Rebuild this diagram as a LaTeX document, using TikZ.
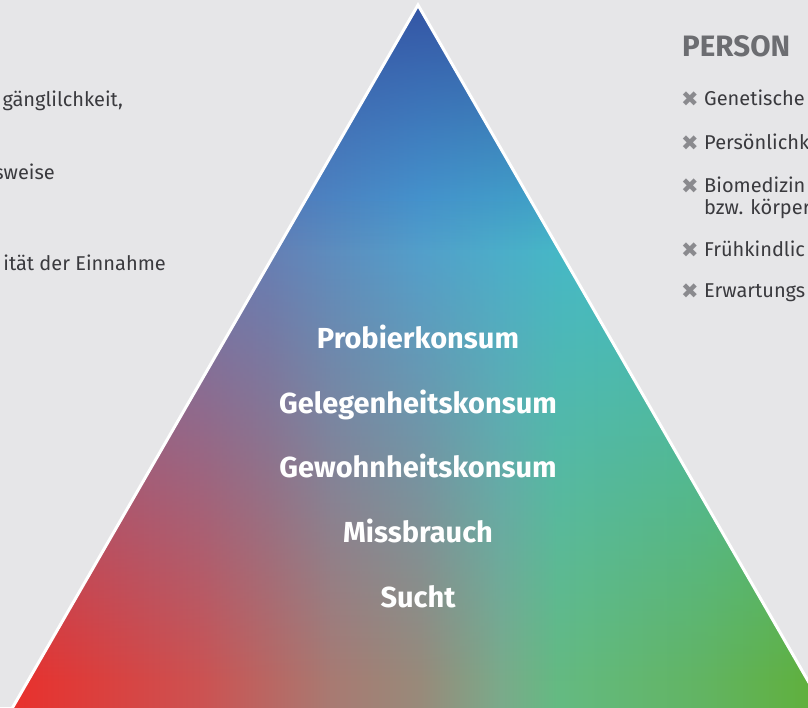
\documentclass[tikz,border=0pt]{standalone}
\usepackage{fontspec}
\setmainfont{Fira Sans}
\newfontfamily\symfont{DejaVu Sans}
\usetikzlibrary{fadings}

\definecolor{bg}{RGB}{230,230,232}
\definecolor{bodytext}{RGB}{58,58,62}
\definecolor{headgray}{RGB}{108,109,113}
\definecolor{bulletgray}{RGB}{138,138,142}
\definecolor{apexblue}{RGB}{52,84,164}
% bottom row colours
\definecolor{b0}{RGB}{234,46,42}
\definecolor{b1}{RGB}{204,82,82}
\definecolor{b2}{RGB}{168,122,114}
\definecolor{b3}{RGB}{152,138,122}
\definecolor{b4}{RGB}{122,170,138}
\definecolor{b5}{RGB}{100,186,130}
\definecolor{b6}{RGB}{98,180,98}
\definecolor{b7}{RGB}{96,176,62}
% top row colours
\definecolor{t0}{RGB}{105,118,182}
\definecolor{t1}{RGB}{90,130,192}
\definecolor{t2}{RGB}{73,162,214}
\definecolor{t3}{RGB}{66,184,208}
\definecolor{t4}{RGB}{60,195,200}

\pgfdeclarehorizontalshading{botrow}{100bp}{color(0bp)=(b0); color(25bp)=(b0); color(37.5bp)=(b1); color(45.5bp)=(b2); color(51bp)=(b3); color(56bp)=(b4); color(59.5bp)=(b5); color(68.5bp)=(b6); color(75bp)=(b7); color(100bp)=(b7)}
\pgfdeclarehorizontalshading{toprow}{100bp}{color(0bp)=(t0); color(25bp)=(t0); color(41.5bp)=(t1); color(51bp)=(t2); color(60bp)=(t3); color(75bp)=(t4); color(100bp)=(t4)}
\tikzfading[name=fadedown, top color=transparent!0, bottom color=transparent!100]

\tikzset{
  bodyfont/.style={font=\fontsize{20}{24}\selectfont, text=bodytext, inner sep=0pt},
  stagelabel/.style={font=\bfseries\fontsize{29}{33}\selectfont, text=white, inner sep=0pt, anchor=base},
  headlabel/.style={font=\bfseries\fontsize{29.5}{33}\selectfont, text=headgray, inner sep=0pt, anchor=base west},
  itemlabel/.style={bodyfont, anchor=base west},
  crossmark/.style={font=\symfont\fontsize{21}{21}\selectfont, text=bulletgray, inner sep=0pt, anchor=base west}
}

\begin{document}
\begin{tikzpicture}[x=1pt,y=-1pt]
\fill[bg] (0,0) rectangle (808,707);
\useasboundingbox (0,0) rectangle (808,707);
\begin{scope}
  \clip (0,0) rectangle (808,707);
  % pyramid fill
  \begin{scope}
    \clip (418,5) -- (826,712) -- (10,712) -- cycle;
    \shade[shading=botrow] (0,0) rectangle (808,712);
    \shade[shading=toprow] (0,0) rectangle (808,200);
    \shade[shading=toprow, path fading=fadedown] (0,190) rectangle (808,680);
    \fill[apexblue, path fading=fadedown] (0,0) rectangle (808,250);
  \end{scope}
  \draw[white, line width=3pt, line join=miter] (418,5) -- (826,712) -- (10,712) -- cycle;

  % left texts (cut off at the left edge)
  \node[bodyfont, anchor=base east] (l1) at (123,106) {gänglilchkeit,};
  \node[bodyfont, anchor=base east] (l2) at (55,179) {sweise};
  \node[bodyfont, anchor=base east] (l3) at (166,270) {ität der Einnahme};

  % right list
  \node[headlabel] (person) at (682,56) {PERSON};
  \node[crossmark] (x1) at (681,106) {✖};
  \node[itemlabel] (i1) at (704,105) {Genetische};
  \node[crossmark] (x2) at (681,150) {✖};
  \node[itemlabel] (i2) at (704,149) {Persönlichk};
  \node[crossmark] (x3) at (681,193) {✖};
  \node[itemlabel] (i3) at (704,192) {Biomedizin};
  \node[itemlabel] (i3b) at (704,214) {bzw. körper};
  \node[crossmark] (x4) at (681,257) {✖};
  \node[itemlabel] (i4) at (704,256) {Frühkindlic};
  \node[crossmark] (x5) at (681,298) {✖};
  \node[itemlabel] (i5) at (704,297) {Erwartungs};

  % stage labels
  \node[stagelabel] (k1) at (418,348) {Probierkonsum};
  \node[stagelabel] (k2) at (418,413) {Gelegenheitskonsum};
  \node[stagelabel] (k3) at (418,477) {Gewohnheitskonsum};
  \node[stagelabel] (k4) at (418,542) {Missbrauch};
  \node[stagelabel] (k5) at (418,607) {Sucht};
\end{scope}
\end{tikzpicture}
\end{document}
